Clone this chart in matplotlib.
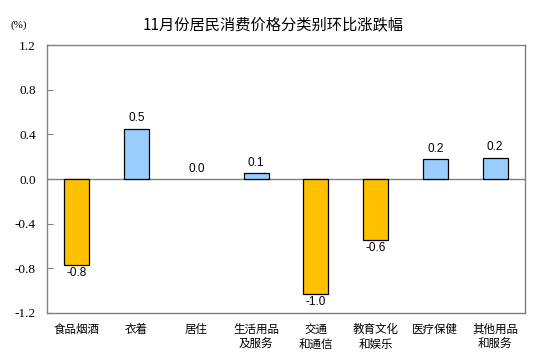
import matplotlib
matplotlib.use("Agg")
import matplotlib.pyplot as plt

categories = ["食品烟酒", "衣着", "居住", "生活用品\n及服务", "交通\n和通信", "教育文化\n和娱乐", "医疗保健", "其他用品\n和服务"]
values = [-0.77, 0.45, 0.0, 0.05, -1.03, -0.55, 0.18, 0.19]
value_labels = ["-0.8", "0.5", "0.0", "0.1", "-1.0", "-0.6", "0.2", "0.2"]
yticks = [-1.2, -0.8, -0.4, 0.0, 0.4, 0.8, 1.2]
title = "11月份居民消费价格分类别环比涨跌幅"

cjk = ["Noto Sans CJK SC", "DejaVu Sans"]
fig = plt.figure(figsize=(5.33, 3.61), dpi=100)
ax = fig.add_axes([0.088, 0.133, 0.897, 0.742])

colors = ["#FFC000" if v < 0 else "#99CCFF" for v in values]
edges = ["none" if v == 0 else "black" for v in values]
x = list(range(len(categories)))
ax.bar(x, values, width=0.42, color=colors, edgecolor=edges, linewidth=0.9, zorder=3)
ax.axhline(0, color="#808080", linewidth=1.0, zorder=2)

for xi, v, lab in zip(x, values, value_labels):
    if v < 0:
        ax.text(xi, v - 0.015, lab, ha="center", va="top", fontsize=8.5, family="Liberation Sans")
    else:
        ax.text(xi, v + 0.04, lab, ha="center", va="bottom", fontsize=8.5, family="Liberation Sans")

ax.set_xlim(-0.5, len(categories) - 0.5)
ax.set_ylim(-1.2, 1.2)
ax.set_yticks(yticks)
ax.set_yticklabels([f"{t:.1f}" for t in yticks], family="Liberation Serif", fontsize=9.5)
ax.tick_params(axis="y", direction="in", length=4, color="#808080", pad=8)
ax.set_xticks(x)
ax.set_xticklabels(categories, family=cjk, fontsize=8.3, linespacing=1.2, va="top")
ax.tick_params(axis="x", length=0, pad=7)
for s in ax.spines.values():
    s.set_color("#808080")
    s.set_linewidth(1.0)

fig.text(0.512, 0.93, title, ha="center", va="center", fontsize=11, family=cjk)
fig.text(0.035, 0.93, "(%)", ha="center", va="center", fontsize=8, family="Liberation Serif")

fig.savefig("out.png", dpi=100)
